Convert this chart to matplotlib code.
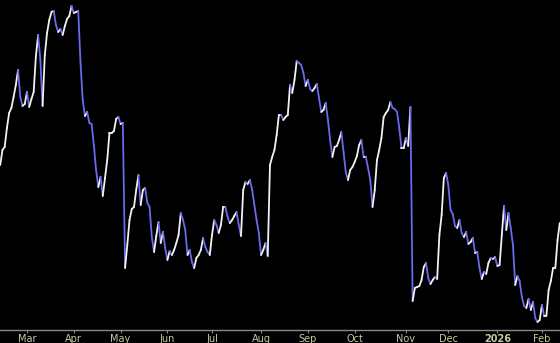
import numpy as np
import pandas as pd
import matplotlib
matplotlib.use("Agg")
import matplotlib.pyplot as plt
from matplotlib.collections import LineCollection

# trading calendar (NYSE holidays in the window)
holidays = ["2025-02-17", "2025-04-18", "2025-05-26", "2025-06-19", "2025-07-04",
            "2025-09-01", "2025-11-27", "2025-12-25", "2026-01-01", "2026-01-19"]
start_date = "2025-02-12"

# daily closes (arbitrary units)
closes = [
    165, 180, 183, 202, 217, 222, 233, 245, 260, 233, 224, 226, 238, 223, 231, 238,
    274, 295, 270, 224, 275, 297, 310, 318, 319, 305, 298, 301, 295, 304, 311, 314,
    324, 317, 318, 319, 268, 230, 214, 218, 207, 206, 185, 160, 143, 153, 134, 152,
    170, 197, 197, 199, 211, 213, 206, 207, 62, 85, 110, 121, 123, 140, 155, 125,
    140, 142, 127, 123, 93, 78, 94, 108, 87, 98, 82, 70, 79, 75, 80, 87,
    95, 117, 110, 100, 75, 80, 68, 62, 72, 75, 80, 92, 83, 78, 75, 95,
    110, 105, 97, 105, 123, 123, 113, 107, 110, 114, 118, 105, 94, 140, 148, 146,
    150, 140, 125, 110, 97, 75, 80, 87, 74, 165, 173, 180, 195, 215, 215, 210,
    213, 215, 245, 237, 250, 269, 267, 265, 257, 244, 250, 241, 239, 242, 246, 232,
    218, 220, 227, 210, 190, 173, 183, 184, 190, 198, 178, 158, 150, 160, 163, 168,
    174, 185, 190, 173, 173, 162, 150, 123, 140, 170, 180, 192, 213, 217, 220, 228,
    222, 221, 218, 202, 182, 182, 192, 184, 223, 29, 42, 43, 44, 50, 63, 67,
    52, 46, 50, 53, 51, 95, 115, 152, 157, 145, 120, 116, 104, 102, 110, 97,
    93, 98, 86, 88, 92, 77, 78, 62, 51, 58, 56, 67, 72, 71, 73, 64,
    65, 95, 124, 100, 117, 102, 85, 45, 54, 49, 33, 24, 22, 31, 20, 28,
    12, 8, 10, 25, 14, 14, 40, 49, 62, 62, 90, 107,
]

dates = pd.bdate_range(start_date, periods=len(closes), freq="C", holidays=holidays)
x = np.arange(len(closes))
y = np.array(closes, dtype=float)

# month ticks at first trading day of each month
month_change = np.r_[False, dates.month[1:] != dates.month[:-1]]
tick_pos = x[month_change]
tick_lab = [d.strftime("%Y") if d.month == 1 else d.strftime("%b") for d in dates[month_change]]

fig = plt.figure(figsize=(5.6, 3.43), dpi=100, facecolor="black")
ax = fig.add_axes([0, 13.5 / 343, 1, 329.5 / 343])
ax.set_facecolor("black")

# white on up days, blue on down days
pts = np.column_stack([x, y]).reshape(-1, 1, 2)
segs = np.concatenate([pts[:-1], pts[1:]], axis=1)
cols = np.where(np.diff(y) >= 0, "#f2f2f2", "#6a6aec")
lc = LineCollection(segs, colors=cols, linewidths=1.3, capstyle="round", joinstyle="round")
ax.add_collection(lc)

ax.set_xlim(-0.1, len(closes) - 0.9)
ax.set_ylim(0.5, 330)

for s in ["top", "left", "right"]:
    ax.spines[s].set_visible(False)
ax.spines["bottom"].set_color("#8a8a8a")
ax.spines["bottom"].set_linewidth(1.0)
ax.set_yticks([])
ax.set_xticks(tick_pos)
ax.set_xticklabels(tick_lab)
ax.tick_params(axis="x", colors="#8a8a8a", length=2, width=0.8, pad=1.0,
               labelsize=7, labelcolor="#c8c89c")
for lab in ax.get_xticklabels():
    if lab.get_text().isdigit():
        lab.set_fontweight("bold")

fig.savefig("out.png", dpi=100, facecolor="black")
